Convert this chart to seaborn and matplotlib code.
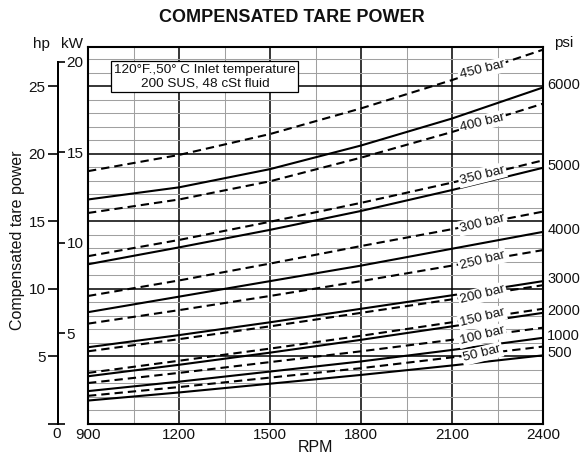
import numpy as np
import pandas as pd
import matplotlib
matplotlib.use("Agg")
import matplotlib.pyplot as plt
import seaborn as sns

# ---------------- data (hp) ----------------
rpm = [900, 1200, 1500, 1800, 2100, 2400]

bar_labels = ["450 bar", "400 bar", "350 bar", "300 bar", "250 bar",
              "200 bar", "150 bar", "100 bar", "50 bar"]
bar_450 = [18.7, 19.9, 21.45, 23.35, 25.45, 27.7]
bar_400 = [15.6, 16.6, 17.95, 19.7, 21.6, 23.7]
bar_350 = [12.4, 13.6, 14.95, 16.35, 17.85, 19.5]
bar_300 = [9.45, 10.6, 11.85, 13.15, 14.4, 15.7]
bar_250 = [7.4, 8.4, 9.45, 10.55, 11.7, 12.85]
bar_200 = [5.35, 6.25, 7.2, 8.2, 9.2, 10.25]
bar_150 = [3.75, 4.65, 5.55, 6.5, 7.5, 8.5]
bar_100 = [3.0, 3.75, 4.55, 5.35, 6.2, 7.1]
bar_50 = [2.05, 2.7, 3.4, 4.1, 4.9, 5.7]
bar_series = [bar_450, bar_400, bar_350, bar_300, bar_250,
              bar_200, bar_150, bar_100, bar_50]

psi_labels = ["6000", "5000", "4000", "3000", "2000", "1000", "500"]
psi_6000 = [16.6, 17.5, 18.85, 20.6, 22.6, 24.9]
psi_5000 = [11.8, 13.05, 14.35, 15.75, 17.3, 18.95]
psi_4000 = [8.25, 9.4, 10.55, 11.7, 12.95, 14.2]
psi_3000 = [5.65, 6.55, 7.5, 8.5, 9.5, 10.55]
psi_2000 = [3.5, 4.35, 5.25, 6.2, 7.2, 8.2]
psi_1000 = [2.4, 3.1, 3.85, 4.6, 5.45, 6.35]
psi_500 = [1.7, 2.3, 2.95, 3.6, 4.3, 5.05]
psi_series = [psi_6000, psi_5000, psi_4000, psi_3000, psi_2000, psi_1000, psi_500]

x_ticks = [900, 1200, 1500, 1800, 2100, 2400]
hp_ticks = [0, 5, 10, 15, 20, 25]
kw_ticks = [0, 5, 10, 15, 20]
HP_PER_KW = 1 / 0.7457
HPMAX = 27.9

# ---------------- style ----------------
sns.set_theme(style="white")
plt.rcParams["font.family"] = ["Liberation Sans", "DejaVu Sans"]
plt.rcParams["lines.dashed_pattern"] = [4.0, 2.4]

fig = plt.figure(figsize=(5.85, 4.57), dpi=100)
W, H = 585, 457
L, R = 88 / W, 543 / W
B, T = (H - 423.5) / H, (H - 47) / H
ax = fig.add_axes([L, B, R - L, T - B])
ax.set_xlim(900, 2400)
ax.set_ylim(0, HPMAX)

# grid
ax.set_xticks(x_ticks)
ax.set_xticks(np.arange(1050, 2400, 300), minor=True)
ax.set_yticks(hp_ticks[1:])
ax.set_yticks(np.arange(1, 28, 1), minor=True)
ax.grid(which="major", color="black", lw=1.1)
ax.grid(which="minor", color="#a0a0a0", lw=0.75)
ax.set_axisbelow(True)
ax.tick_params(axis="y", which="both", left=False, labelleft=False)
ax.tick_params(axis="x", which="both", bottom=False, length=0, pad=3,
               labelsize=11, labelcolor="#111111")
ax.set_xticklabels([str(v) for v in x_ticks])
for s in ax.spines.values():
    s.set_visible(True)
    s.set_color("black")
    s.set_linewidth(1.5)
ax.set_xlabel("RPM", fontsize=11.5, labelpad=-1, color="#111111")
ax.set_ylabel("")

# curves
for vals in psi_series:
    sns.lineplot(x=rpm, y=vals, ax=ax, color="black", lw=1.5,
                 linestyle="-", zorder=3)
for vals in bar_series:
    sns.lineplot(x=rpm, y=vals, ax=ax, color="black", lw=1.5,
                 linestyle="--", zorder=3)

# bar labels
label_rpm = 2200
for lbl, vals in zip(bar_labels, bar_series):
    yv = np.interp(label_rpm, rpm, vals)
    ax.text(label_rpm, yv, lbl, fontsize=9.7, ha="center", va="center",
            rotation=14, rotation_mode="anchor", zorder=5, color="#111111",
            bbox=dict(boxstyle="square,pad=0.12", fc="white", ec="none"))

# psi labels
for lbl, vals in zip(psi_labels, psi_series):
    ax.annotate(lbl, xy=(2400, vals[-1]), xytext=(3, 1.5),
                textcoords="offset points", ha="left", va="center",
                fontsize=10.5, annotation_clip=False, color="#111111")

# info box
ax.text(0.257, 0.921, "120°F.,50° C Inlet temperature\n200 SUS, 48 cSt fluid",
        transform=ax.transAxes, ha="center", va="center", fontsize=9.7,
        linespacing=1.15, zorder=6, color="#111111",
        bbox=dict(boxstyle="square,pad=0.2", fc="white", ec="black", lw=0.9))

# ---------------- left hp / kW axis ----------------
ax_hp = fig.add_axes([58 / W, B, 1e-4, T - B])
ax_hp.set_ylim(0, HPMAX)
ax_hp.patch.set_visible(False)
for k in ["top", "right", "bottom"]:
    ax_hp.spines[k].set_visible(False)
ax_hp.spines["left"].set_bounds(0, 20 * HP_PER_KW)
ax_hp.spines["left"].set_linewidth(1.4)
ax_hp.spines["left"].set_color("black")
ax_hp.set_xticks([])
ax_hp.set_yticks(hp_ticks)
ax_hp.set_yticklabels([""] + [str(v) for v in hp_ticks[1:]])
ax_hp.tick_params(axis="y", direction="out", length=7, width=1.2,
                  color="black", labelsize=11, pad=2, labelcolor="#111111",
                  left=True)

ax_kw = ax_hp.twinx()
ax_kw.set_ylim(0, HPMAX / HP_PER_KW)
ax_kw.patch.set_visible(False)
for k in ["top", "left", "bottom"]:
    ax_kw.spines[k].set_visible(False)
ax_kw.spines["right"].set_bounds(0, 20)
ax_kw.spines["right"].set_linewidth(1.4)
ax_kw.spines["right"].set_color("black")
ax_kw.set_yticks(kw_ticks)
ax_kw.set_yticklabels([""] + [str(v) for v in kw_ticks[1:]])
ax_kw.tick_params(axis="y", direction="out", length=5, width=1.2,
                  color="black", labelsize=11, pad=1, labelcolor="#111111",
                  right=True)

# ---------------- free texts ----------------
fig.text(292 / W, 1 - 17 / H, "COMPENSATED TARE POWER", ha="center",
         va="center", fontsize=13, fontweight="bold", color="#111111")
fig.text(18 / W, 1 - 240 / H, "Compensated tare power", rotation=90,
         ha="center", va="center", fontsize=11.5, color="#111111")
fig.text(41 / W, 1 - 44 / H, "hp", ha="center", va="center", fontsize=11,
         color="#111111")
fig.text(72 / W, 1 - 44 / H, "kW", ha="center", va="center", fontsize=11,
         color="#111111")
fig.text(564 / W, 1 - 43 / H, "psi", ha="center", va="center", fontsize=11,
         color="#111111")
fig.text(57 / W, 1 - 434 / H, "0", ha="center", va="center", fontsize=11,
         color="#111111")

fig.savefig("out.png", dpi=100)
